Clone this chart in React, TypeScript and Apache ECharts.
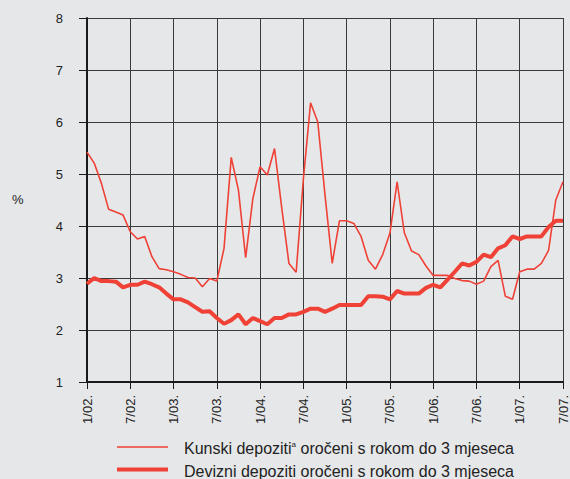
import React, { useEffect, useRef } from "react";
import * as echarts from "echarts";

const years = ["02", "03", "04", "05", "06", "07"];
const categories: string[] = [];
years.forEach((y) => {
  for (let m = 1; m <= 12; m++) {
    if (y === "07" && m > 7) break;
    categories.push(`${m}/${y}.`);
  }
});

const kunskiName = "Kunski depoziti oročeni s rokom do 3 mjeseca";
const deviznName = "Devizni depoziti oročeni s rokom do 3 mjeseca";

const kunski = [
  5.42, 5.21, 4.82, 4.32, 4.27, 4.21, 3.89, 3.75, 3.8, 3.41, 3.18, 3.16,
  3.12, 3.07, 3.01, 3.0, 2.83, 2.99, 2.94, 3.57, 5.32, 4.69, 3.39, 4.53,
  5.14, 4.98, 5.49, 4.35, 3.28, 3.11, 4.9, 6.37, 6.0, 4.6, 3.28, 4.1,
  4.1, 4.05, 3.8, 3.34, 3.17, 3.45, 3.86, 4.85, 3.87, 3.52, 3.45, 3.23,
  3.05, 3.05, 3.05, 2.99, 2.95, 2.94, 2.88, 2.94, 3.22, 3.34, 2.65, 2.59,
  3.12, 3.17, 3.17, 3.28, 3.53, 4.5, 4.85,
];

const devizni = [
  2.89, 3.0, 2.94, 2.94, 2.93, 2.82, 2.87, 2.87, 2.93, 2.88, 2.82, 2.7,
  2.59, 2.59, 2.53, 2.44, 2.35, 2.36, 2.23, 2.12, 2.19, 2.3, 2.11, 2.23,
  2.17, 2.11, 2.23, 2.23, 2.3, 2.3, 2.35, 2.41, 2.41, 2.35, 2.41, 2.48,
  2.48, 2.48, 2.48, 2.65, 2.65, 2.64, 2.59, 2.75, 2.7, 2.7, 2.7, 2.81,
  2.87, 2.82, 2.97, 3.12, 3.28, 3.24, 3.31, 3.45, 3.4, 3.57, 3.63, 3.8,
  3.75, 3.8, 3.8, 3.8, 3.98, 4.1, 4.1,
];

const FONT = "'Liberation Sans', Arial, sans-serif";
const RED = "#ef4136";
const TEXT = "#222";

export default function App() {
  const ref = useRef<HTMLDivElement>(null);
  useEffect(() => {
    document.body.style.margin = "0";
    const chart = echarts.init(ref.current!, null, { renderer: "svg" });
    chart.setOption({
      animation: false,
      backgroundColor: "#e6e7e9",
      textStyle: { fontFamily: FONT },
      grid: { left: 87, right: 7, top: 18, bottom: 97, containLabel: false },
      xAxis: {
        type: "category",
        data: categories,
        boundaryGap: false,
        axisLine: { show: true, lineStyle: { color: "#1a1a1a", width: 2 } },
        axisTick: { show: true, interval: 5, length: 7, lineStyle: { color: "#1a1a1a", width: 1 } },
        axisLabel: {
          interval: 5,
          rotate: 90,
          margin: 13,
          fontSize: 13,
          color: TEXT,
          fontFamily: FONT,
        },
        splitLine: { show: true, interval: 5, lineStyle: { color: "#3a3a3a", width: 1 } },
      },
      yAxis: {
        type: "value",
        min: 1,
        max: 8,
        interval: 1,
        axisLine: { show: true, lineStyle: { color: "#1a1a1a", width: 2 } },
        axisTick: { show: true, length: 8, lineStyle: { color: "#1a1a1a", width: 1 } },
        axisLabel: { margin: 24, fontSize: 13, color: TEXT, fontFamily: FONT },
        splitLine: { show: true, lineStyle: { color: "#3a3a3a", width: 1 } },
      },
      legend: { show: false },
      graphic: [
        {
          type: "text",
          left: 12,
          top: 193,
          style: { text: "%", fontSize: 13, fill: TEXT, fontFamily: FONT },
        },
        {
          type: "line",
          shape: { x1: 117, y1: 447, x2: 168, y2: 447 },
          style: { stroke: RED, lineWidth: 1.6 },
        },
        {
          type: "line",
          shape: { x1: 117, y1: 469.5, x2: 168, y2: 469.5 },
          style: { stroke: RED, lineWidth: 4 },
        },
        {
          type: "text",
          x: 184,
          y: 448,
          style: {
            text: "Kunski depoziti{sup|a} oročeni s rokom do 3 mjeseca",
            fontSize: 16,
            fill: TEXT,
            fontFamily: FONT,
            verticalAlign: "middle",
            rich: {
              sup: { fontSize: 8, fill: TEXT, fontFamily: FONT, verticalAlign: "top", padding: [0, 0, 8, 0] },
            },
          },
        },
        {
          type: "text",
          x: 184,
          y: 471,
          style: {
            text: deviznName,
            fontSize: 16,
            fill: TEXT,
            fontFamily: FONT,
            verticalAlign: "middle",
          },
        },
      ],
      series: [
        {
          name: kunskiName,
          type: "line",
          data: kunski,
          symbol: "none",
          lineStyle: { color: RED, width: 1.6 },
          itemStyle: { color: RED },
        },
        {
          name: deviznName,
          type: "line",
          data: devizni,
          symbol: "none",
          lineStyle: { color: RED, width: 4 },
          itemStyle: { color: RED },
        },
      ],
    });
    return () => chart.dispose();
  }, []);
  return (
    <div
      ref={ref}
      style={{ position: "absolute", left: 0, top: 0, width: 570, height: 479 }}
    />
  );
}
